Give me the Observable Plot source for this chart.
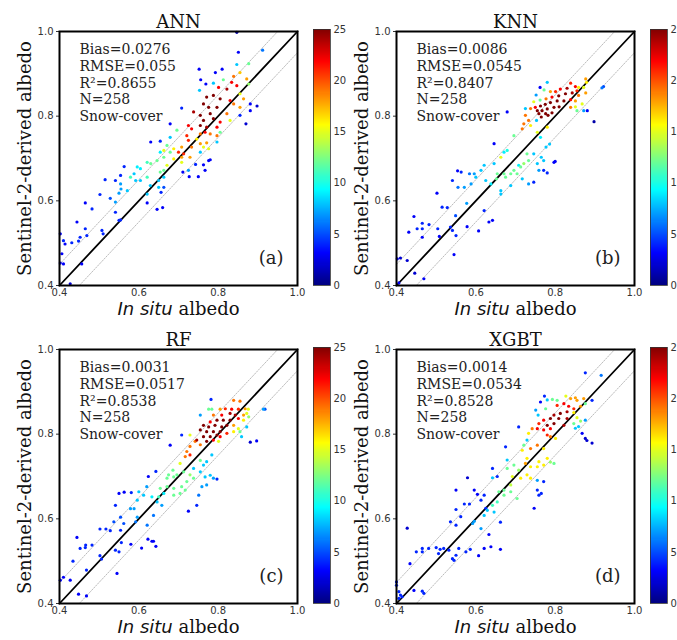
<!DOCTYPE html>
<html>
<head>
<meta charset="utf-8">
<script src="https://cdn.jsdelivr.net/npm/d3@7"></script>
<script src="https://cdn.jsdelivr.net/npm/@observablehq/plot@0.6"></script>
<style>
  body { margin: 0; background: #fff; }
  #chart { position: relative; width: 677px; height: 640px; overflow: hidden; background: #fff; }
  #chart > div { position: absolute; }
  #chart svg { max-width: none !important; }
</style>
</head>
<body>
<div id="chart"></div>
<script>
// ---------- data ----------
const models = ["ANN", "KNN", "RF", "XGBT"];
const panelTags = ["(a)", "(b)", "(c)", "(d)"];
const biasVals = ["0.0276", "0.0086", "0.0031", "0.0014"];
const rmseVals = ["0.055", "0.0545", "0.0517", "0.0534"];
const r2Vals = ["0.8655", "0.8407", "0.8538", "0.8528"];
const nVals = [258, 258, 258, 258];
const surface = "Snow-cover";
const xLabelItalic = "In situ";
const xLabelRest = " albedo";
const yLabel = "Sentinel-2-derived albedo";
const axisLimits = [0.4, 1.0];
const axisTicks = [0.4, 0.6, 0.8, 1.0];
const bandOffset = 0.05;
const densityDomain = [0, 25];
const densityTicks = [0, 5, 10, 15, 20, 25];

// [in situ albedo, Sentinel-2 albedo, point density]
const annPts = [[0.847,0.998,1],[0.912,0.956,6],[0.851,0.951,3],[0.877,0.924,12],[0.752,0.911,3],[0.81,0.911,3],[0.793,0.903,3],[0.855,0.903,17],[0.847,0.922,8],[0.756,0.886,3],[0.769,0.876,3],[0.788,0.878,8],[0.813,0.886,12],[0.839,0.894,19],[0.872,0.888,18],[0.877,0.876,13],[0.834,0.880,22],[0.847,0.872,22],[0.822,0.864,24],[0.801,0.868,22],[0.753,0.861,8],[0.771,0.845,25],[0.788,0.849,25],[0.805,0.841,25],[0.830,0.837,22],[0.855,0.853,15],[0.864,0.841,18],[0.839,0.829,19],[0.855,0.821,18],[0.881,0.829,3],[0.855,0.802,4],[0.87,0.782,2],[0.881,0.813,3],[0.898,0.824,2],[0.763,0.829,25],[0.776,0.821,25],[0.797,0.821,25],[0.780,0.806,25],[0.755,0.802,25],[0.738,0.810,24],[0.763,0.790,25],[0.788,0.794,25],[0.805,0.786,22],[0.822,0.806,19],[0.830,0.790,15],[0.708,0.819,4],[0.679,0.782,3],[0.725,0.778,22],[0.733,0.770,22],[0.755,0.778,25],[0.771,0.774,24],[0.797,0.774,22],[0.767,0.762,22],[0.780,0.758,19],[0.797,0.754,19],[0.805,0.762,12],[0.755,0.758,19],[0.746,0.746,16],[0.797,0.739,8],[0.771,0.737,18],[0.696,0.767,12],[0.721,0.754,21],[0.725,0.743,21],[0.708,0.727,18],[0.688,0.723,16],[0.755,0.735,18],[0.763,0.727,15],[0.755,0.715,8],[0.776,0.723,15],[0.733,0.727,19],[0.654,0.741,4],[0.630,0.739,3],[0.679,0.750,8],[0.671,0.731,12],[0.663,0.719,15],[0.679,0.715,12],[0.654,0.715,9],[0.700,0.715,21],[0.713,0.711,21],[0.708,0.703,18],[0.688,0.699,16],[0.708,0.691,15],[0.729,0.703,18],[0.663,0.703,12],[0.646,0.695,12],[0.621,0.691,11],[0.630,0.688,12],[0.596,0.680,9],[0.604,0.676,9],[0.588,0.664,8],[0.579,0.656,11],[0.592,0.648,8],[0.563,0.681,4],[0.554,0.660,4],[0.541,0.648,4],[0.554,0.640,7],[0.555,0.628,7],[0.55,0.618,7],[0.571,0.624,8],[0.604,0.648,8],[0.621,0.656,11],[0.654,0.668,12],[0.663,0.672,12],[0.663,0.656,8],[0.650,0.648,8],[0.671,0.684,15],[0.650,0.632,8],[0.663,0.632,5],[0.656,0.620,4],[0.621,0.616,8],[0.629,0.636,8],[0.515,0.650,4],[0.502,0.615,4],[0.528,0.606,5],[0.541,0.597,7],[0.541,0.573,4],[0.554,0.555,4],[0.55,0.554,4],[0.482,0.581,4],[0.465,0.595,3],[0.621,0.595,3],[0.646,0.580,3],[0.711,0.668,3],[0.727,0.657,3],[0.743,0.686,4],[0.763,0.685,3],[0.776,0.695,3],[0.780,0.697,3],[0.767,0.672,3],[0.750,0.657,3],[0.725,0.672,7],[0.66,0.584,3],[0.444,0.550,3],[0.465,0.534,4],[0.469,0.518,4],[0.452,0.514,4],[0.448,0.505,4],[0.431,0.501,4],[0.410,0.506,4],[0.414,0.498,3],[0.402,0.522,3],[0.406,0.475,3],[0.410,0.451,3],[0.402,0.453,3],[0.456,0.451,3],[0.507,0.530,4],[0.510,0.522,4],[0.427,0.404,2]];

const knnPts = [[0.780,0.880,8],[0.762,0.868,3],[0.752,0.850,7],[0.772,0.862,12],[0.788,0.858,18],[0.801,0.858,21],[0.813,0.864,22],[0.830,0.866,24],[0.839,0.878,21],[0.851,0.870,22],[0.855,0.860,21],[0.843,0.855,24],[0.826,0.853,25],[0.809,0.848,25],[0.792,0.845,22],[0.777,0.841,19],[0.762,0.838,12],[0.746,0.834,15],[0.725,0.818,8],[0.738,0.818,19],[0.750,0.821,22],[0.763,0.824,25],[0.775,0.828,25],[0.788,0.832,25],[0.805,0.836,25],[0.822,0.836,25],[0.839,0.839,22],[0.755,0.813,25],[0.767,0.813,25],[0.780,0.817,25],[0.797,0.821,25],[0.81,0.822,25],[0.759,0.806,25],[0.776,0.806,25],[0.792,0.808,25],[0.765,0.798,25],[0.782,0.802,25],[0.839,0.821,19],[0.851,0.836,18],[0.859,0.849,19],[0.877,0.888,18],[0.872,0.868,15],[0.877,0.855,18],[0.859,0.868,16],[0.868,0.829,15],[0.851,0.822,15],[0.855,0.813,12],[0.872,0.813,7],[0.881,0.813,3],[0.898,0.787,1],[0.918,0.867,6],[0.922,0.870,5],[0.879,0.880,16],[0.725,0.802,19],[0.733,0.790,19],[0.721,0.782,19],[0.738,0.778,16],[0.717,0.770,19],[0.753,0.790,8],[0.679,0.810,3],[0.780,0.774,16],[0.696,0.754,12],[0.646,0.735,3],[0.671,0.715,9],[0.679,0.719,10],[0.663,0.703,15],[0.646,0.688,8],[0.621,0.684,8],[0.613,0.672,8],[0.596,0.664,7],[0.584,0.664,6],[0.563,0.668,4],[0.554,0.671,3],[0.541,0.648,4],[0.555,0.632,6],[0.571,0.632,7],[0.588,0.640,7],[0.600,0.656,8],[0.625,0.648,8],[0.638,0.640,9],[0.652,0.652,12],[0.654,0.664,12],[0.671,0.664,12],[0.675,0.656,12],[0.688,0.664,12],[0.696,0.672,12],[0.704,0.664,12],[0.713,0.680,12],[0.721,0.688,13],[0.733,0.695,12],[0.729,0.711,12],[0.746,0.711,8],[0.765,0.703,8],[0.771,0.695,8],[0.786,0.734,8],[0.777,0.727,8],[0.755,0.688,8],[0.759,0.672,7],[0.771,0.672,4],[0.780,0.666,4],[0.797,0.691,3],[0.800,0.693,3],[0.763,0.750,9],[0.755,0.762,15],[0.708,0.684,9],[0.717,0.652,8],[0.746,0.644,4],[0.733,0.640,7],[0.688,0.636,8],[0.663,0.616,8],[0.663,0.624,8],[0.621,0.577,4],[0.633,0.550,3],[0.642,0.554,3],[0.607,0.529,3],[0.577,0.594,7],[0.578,0.539,3],[0.541,0.530,4],[0.55,0.518,4],[0.545,0.473,3],[0.549,0.565,5],[0.536,0.538,4],[0.515,0.585,4],[0.528,0.584,4],[0.502,0.618,3],[0.504,0.534,4],[0.508,0.516,3],[0.482,0.544,4],[0.465,0.547,4],[0.465,0.534,4],[0.452,0.534,4],[0.465,0.514,3],[0.444,0.563,3],[0.431,0.526,3],[0.427,0.459,2],[0.410,0.465,2],[0.402,0.463,3],[0.446,0.429,2],[0.469,0.416,3],[0.406,0.406,3]];

const rfPts = [[0.782,0.882,4],[0.776,0.859,12],[0.784,0.859,12],[0.755,0.845,7],[0.805,0.859,18],[0.818,0.860,21],[0.834,0.859,22],[0.839,0.880,19],[0.855,0.878,19],[0.851,0.859,21],[0.868,0.860,18],[0.876,0.859,15],[0.918,0.859,5],[0.914,0.859,7],[0.788,0.845,19],[0.809,0.845,22],[0.830,0.849,24],[0.843,0.845,24],[0.851,0.837,22],[0.864,0.845,18],[0.872,0.849,15],[0.864,0.833,16],[0.877,0.841,13],[0.797,0.833,25],[0.813,0.833,25],[0.830,0.833,25],[0.780,0.829,22],[0.763,0.821,25],[0.776,0.817,25],[0.792,0.821,25],[0.809,0.817,25],[0.822,0.821,25],[0.755,0.810,25],[0.771,0.806,25],[0.788,0.806,25],[0.805,0.806,25],[0.763,0.794,25],[0.780,0.794,25],[0.797,0.798,25],[0.746,0.786,24],[0.771,0.783,25],[0.788,0.786,22],[0.805,0.794,22],[0.822,0.802,21],[0.839,0.806,16],[0.851,0.813,15],[0.839,0.821,18],[0.855,0.806,12],[0.872,0.817,8],[0.859,0.794,8],[0.881,0.781,2],[0.897,0.784,3],[0.708,0.798,4],[0.679,0.774,3],[0.729,0.798,15],[0.742,0.783,19],[0.729,0.771,19],[0.721,0.759,19],[0.717,0.747,19],[0.729,0.751,21],[0.755,0.775,19],[0.801,0.783,15],[0.704,0.731,15],[0.686,0.715,12],[0.671,0.696,12],[0.675,0.704,12],[0.688,0.699,12],[0.696,0.704,12],[0.713,0.711,12],[0.729,0.704,13],[0.738,0.696,12],[0.721,0.688,12],[0.708,0.676,12],[0.688,0.672,12],[0.671,0.676,12],[0.654,0.672,12],[0.663,0.660,9],[0.650,0.652,11],[0.633,0.652,9],[0.646,0.640,8],[0.688,0.656,12],[0.704,0.660,12],[0.717,0.668,12],[0.738,0.719,8],[0.755,0.738,12],[0.763,0.727,8],[0.771,0.735,8],[0.784,0.751,8],[0.755,0.711,8],[0.767,0.699,8],[0.780,0.703,8],[0.788,0.696,7],[0.797,0.694,4],[0.771,0.680,7],[0.759,0.676,7],[0.751,0.656,6],[0.746,0.632,4],[0.725,0.618,3],[0.643,0.712,4],[0.624,0.700,3],[0.620,0.676,7],[0.600,0.664,8],[0.612,0.656,8],[0.596,0.644,8],[0.588,0.624,7],[0.596,0.604,7],[0.592,0.593,6],[0.621,0.585,6],[0.658,0.632,7],[0.637,0.608,6],[0.581,0.662,4],[0.563,0.663,3],[0.55,0.660,3],[0.541,0.632,4],[0.554,0.604,5],[0.537,0.593,5],[0.562,0.589,5],[0.502,0.576,4],[0.517,0.576,4],[0.528,0.572,4],[0.579,0.624,7],[0.554,0.573,4],[0.556,0.544,4],[0.550,0.522,4],[0.541,0.526,4],[0.502,0.513,4],[0.506,0.505,4],[0.482,0.538,4],[0.466,0.538,4],[0.465,0.532,4],[0.452,0.530,4],[0.444,0.556,3],[0.434,0.500,4],[0.468,0.479,4],[0.410,0.462,3],[0.402,0.455,3],[0.427,0.455,3],[0.448,0.422,3],[0.468,0.418,3],[0.545,0.471,3],[0.580,0.540,3],[0.607,0.531,3],[0.623,0.552,3],[0.633,0.547,3],[0.637,0.547,3],[0.643,0.535,3]];

const xgbtPts = [[0.876,0.945,4],[0.916,0.939,6],[0.773,0.890,4],[0.763,0.876,3],[0.780,0.881,8],[0.793,0.882,12],[0.805,0.880,12],[0.827,0.890,15],[0.839,0.884,18],[0.851,0.886,18],[0.855,0.880,18],[0.872,0.884,18],[0.876,0.872,12],[0.893,0.880,4],[0.751,0.857,7],[0.757,0.845,8],[0.776,0.860,12],[0.805,0.868,21],[0.822,0.872,22],[0.834,0.866,22],[0.847,0.860,21],[0.864,0.866,18],[0.830,0.853,24],[0.813,0.849,25],[0.797,0.845,24],[0.788,0.837,25],[0.771,0.833,22],[0.759,0.825,21],[0.780,0.821,25],[0.797,0.825,25],[0.809,0.837,25],[0.830,0.837,24],[0.822,0.821,24],[0.755,0.813,22],[0.771,0.810,22],[0.788,0.813,22],[0.742,0.813,19],[0.733,0.802,16],[0.847,0.851,16],[0.855,0.839,15],[0.864,0.831,13],[0.847,0.825,12],[0.851,0.814,8],[0.859,0.818,8],[0.876,0.833,7],[0.868,0.802,3],[0.876,0.790,2],[0.880,0.785,2],[0.893,0.779,2],[0.708,0.817,4],[0.729,0.786,8],[0.721,0.774,12],[0.717,0.762,16],[0.738,0.766,19],[0.755,0.774,19],[0.780,0.798,21],[0.788,0.794,19],[0.801,0.790,16],[0.771,0.766,16],[0.780,0.743,16],[0.759,0.735,16],[0.729,0.743,16],[0.725,0.731,18],[0.738,0.723,16],[0.755,0.723,16],[0.771,0.727,16],[0.788,0.734,13],[0.797,0.731,12],[0.729,0.704,16],[0.738,0.696,16],[0.708,0.715,13],[0.696,0.727,12],[0.679,0.719,12],[0.692,0.700,15],[0.713,0.696,16],[0.679,0.739,8],[0.675,0.770,4],[0.642,0.719,4],[0.654,0.700,4],[0.642,0.697,8],[0.688,0.680,14],[0.755,0.691,7],[0.771,0.688,4],[0.755,0.668,4],[0.759,0.656,4],[0.765,0.660,4],[0.747,0.625,3],[0.671,0.668,12],[0.658,0.664,12],[0.671,0.656,12],[0.688,0.664,12],[0.704,0.648,12],[0.654,0.640,11],[0.642,0.632,11],[0.629,0.620,8],[0.646,0.616,8],[0.621,0.608,8],[0.613,0.577,7],[0.625,0.625,4],[0.621,0.656,4],[0.613,0.644,4],[0.596,0.668,3],[0.604,0.658,3],[0.579,0.697,2],[0.550,0.668,3],[0.571,0.635,4],[0.584,0.635,4],[0.550,0.622,4],[0.562,0.605,4],[0.550,0.585,4],[0.536,0.593,4],[0.596,0.594,7],[0.592,0.589,7],[0.662,0.592,4],[0.633,0.563,3],[0.638,0.534,3],[0.621,0.530,3],[0.607,0.513,3],[0.662,0.528,3],[0.586,0.528,4],[0.575,0.522,4],[0.557,0.530,4],[0.550,0.514,4],[0.541,0.506,4],[0.545,0.502,4],[0.532,0.526,4],[0.519,0.530,4],[0.510,0.528,4],[0.500,0.532,4],[0.506,0.518,4],[0.481,0.530,4],[0.465,0.530,4],[0.465,0.522,4],[0.450,0.522,4],[0.434,0.494,3],[0.427,0.578,2],[0.444,0.431,3],[0.465,0.429,4],[0.469,0.424,4],[0.400,0.451,4],[0.400,0.443,4],[0.406,0.428,4],[0.410,0.420,4],[0.414,0.416,4],[0.406,0.412,4]];

const panelPoints = [annPts, knnPts, rfPts, xgbtPts];

// ---------- jet colormap ----------
function jet(t) {
  const c = v => Math.round(255 * Math.max(0, Math.min(1, v)));
  return `rgb(${c(1.5 - Math.abs(4 * t - 3))},${c(1.5 - Math.abs(4 * t - 2))},${c(1.5 - Math.abs(4 * t - 1))})`;
}

const serif = "DejaVu Serif";
const sans = "DejaVu Sans";
const chart = document.getElementById("chart");
const offsets = [[0, 0], [337, 0], [0, 318], [337, 318]];
const xLabelFull = xLabelItalic + xLabelRest;

models.forEach((model, i) => {
  const [ox, oy] = offsets[i];
  const pts = panelPoints[i].slice().sort((a, b) => a[2] - b[2]);
  const lo = axisLimits[0], hi = axisLimits[1];
  const oneToOne = [[lo, lo], [hi, hi]];
  const upper = [[lo, lo + bandOffset], [hi - bandOffset, hi]];
  const lower = [[lo + bandOffset, lo], [hi, hi - bandOffset]];
  const stats = [`Bias=${biasVals[i]}`, `RMSE=${rmseVals[i]}`, `R²=${r2Vals[i]}`, `N=${nVals[i]}`, surface].join("\n");

  const plot = Plot.plot({
    width: 310, height: 320,
    marginLeft: 59, marginRight: 13, marginTop: 31, marginBottom: 35,
    style: { background: "transparent", fontFamily: sans, fontSize: "10px", color: "#333", overflow: "visible", maxWidth: "none" },
    x: { domain: axisLimits, ticks: axisTicks, tickFormat: ".1f", tickSize: 0, tickPadding: 3, label: null },
    y: { domain: axisLimits, ticks: axisTicks, tickFormat: ".1f", tickSize: 3, tickPadding: 3, label: null },
    color: { type: "linear", domain: densityDomain, interpolate: jet },
    marks: [
      Plot.line(upper, { stroke: "#aaa", strokeWidth: 0.8, strokeDasharray: "1.5,1.5" }),
      Plot.line(lower, { stroke: "#aaa", strokeWidth: 0.8, strokeDasharray: "1.5,1.5" }),
      Plot.line(oneToOne, { stroke: "black", strokeWidth: 1.8 }),
      Plot.dot(pts, { x: d => d[0], y: d => d[1], fill: d => d[2], r: 1.6 }),
      Plot.frame({ stroke: "black", strokeWidth: 2 }),
      Plot.text([model], { frameAnchor: "top", lineAnchor: "bottom", dy: -4, fontFamily: serif, fontSize: 18, fill: "#111" }),
      Plot.text([stats], { frameAnchor: "top-left", lineAnchor: "top", textAnchor: "start", dx: 20, dy: 11, lineHeight: 1.19, fontFamily: serif, fontSize: 14, fill: "#222" }),
      Plot.text([panelTags[i]], { frameAnchor: "bottom-right", lineAnchor: "bottom", textAnchor: "end", dx: -14, dy: -22, fontFamily: serif, fontSize: 18, fill: "#222" }),
      Plot.text([yLabel], { frameAnchor: "left", textAnchor: "middle", lineAnchor: "middle", rotate: -90, dx: -34, fontFamily: serif, fontSize: 18, fill: "#111" }),
      Plot.text([xLabelFull], { frameAnchor: "bottom", lineAnchor: "bottom", textAnchor: "middle", dy: 29, fontFamily: serif, fontSize: 18, fill: "#111" })
    ]
  });
  // give "In situ" its italic sans style inside the single axis-label text
  d3.select(plot).selectAll("text")
    .filter(function () { return this.textContent === xLabelFull; })
    .each(function () {
      const t = d3.select(this);
      t.text(null);
      t.append("tspan").attr("font-family", sans).attr("font-style", "italic").text(xLabelItalic);
      t.append("tspan").text(xLabelRest);
    });

  const wrap = document.createElement("div");
  wrap.style.left = ox + "px";
  wrap.style.top = oy + "px";
  wrap.style.width = "310px";
  wrap.appendChild(plot);
  chart.appendChild(wrap);

  // colour bar
  const step = 0.1;
  const levels = d3.range(densityDomain[0], densityDomain[1], step);
  const bar = Plot.plot({
    width: 47, height: 320,
    marginLeft: 0, marginRight: 30, marginTop: 29, marginBottom: 35,
    style: { background: "transparent", fontFamily: sans, fontSize: "10px", color: "#333", overflow: "visible", maxWidth: "none" },
    x: { domain: [0, 1], axis: null },
    y: { domain: densityDomain, ticks: densityTicks, tickSize: 0, tickPadding: 3, label: null, axis: "right" },
    color: { type: "linear", domain: densityDomain, interpolate: jet },
    marks: [
      Plot.rect(levels, { x1: 0, x2: 1, y1: d => d, y2: d => d + step, fill: d => d + step / 2, inset: 0, shapeRendering: "crispEdges" }),
      Plot.frame({ stroke: "#333", strokeWidth: 0.8 })
    ]
  });
  const bw = document.createElement("div");
  bw.style.left = (ox + 313) + "px";
  bw.style.top = oy + "px";
  bw.style.width = "47px";
  bw.appendChild(bar);
  chart.appendChild(bw);
});
</script>
</body>
</html>
